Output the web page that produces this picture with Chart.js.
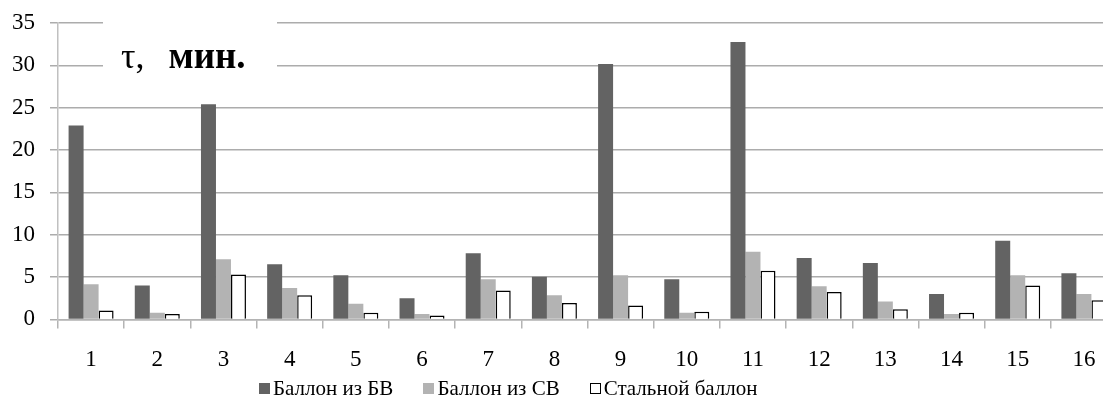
<!DOCTYPE html>
<html>
<head>
<meta charset="utf-8">
<script src="https://cdn.jsdelivr.net/npm/chart.js@4"></script>
<style>
  html, body { margin: 0; padding: 0; background: #fff; overflow: hidden; }
  #wrap { position: relative; width: 1118px; height: 396px; }
  #legend { position: absolute; left: 259px; top: 376px; display: flex; align-items: center;
            font: 21px "Liberation Serif", "Times New Roman", serif; color: #000; white-space: nowrap; }
  #legend .item { display: flex; align-items: center; margin-right: 30px; }
  #legend .box { width: 11px; height: 11px; margin-right: 3px; box-sizing: border-box; }
</style>
</head>
<body>
<div id="wrap">
  <canvas id="myChart"></canvas>
  <div id="legend"></div>
</div>
<script>
const categories = ["1","2","3","4","5","6","7","8","9","10","11","12","13","14","15","16"];
const seriesNames = ["Баллон из БВ", "Баллон из СВ", "Стальной баллон"];
const bvValues = [22.9, 4.0, 25.4, 6.5, 5.2, 2.5, 7.8, 5.05, 30.15, 4.75, 32.75, 7.25, 6.65, 3.0, 9.3, 5.45];
const svValues = [4.15, 0.8, 7.1, 3.7, 1.85, 0.65, 4.75, 2.85, 5.2, 0.8, 8.0, 3.9, 2.1, 0.65, 5.2, 3.0];
const steelValues = [1.05, 0.65, 5.3, 2.85, 0.8, 0.45, 3.4, 1.95, 1.65, 0.9, 5.75, 3.25, 1.2, 0.8, 4.0, 2.25];
const yMax = 35;
const yStep = 5;
const titleText = ["τ, ", "мин."];

const serif = "'Liberation Serif', 'Times New Roman', serif";

// white box with the unit label over the top gridlines
const unitLabel = {
  id: "unitLabel",
  afterDraw(chart) {
    const ctx = chart.ctx;
    ctx.save();
    ctx.fillStyle = "#fff";
    ctx.fillRect(103, 12, 174, 66);
    ctx.fillStyle = "#000";
    ctx.textBaseline = "alphabetic";
    ctx.font = "36px " + serif;
    ctx.fillText(titleText[0], 121, 68);
    const w = ctx.measureText(titleText[0]).width;
    ctx.font = "bold 37px " + serif;
    ctx.fillText(titleText[1], 121 + w + 15, 68);
    ctx.restore();
  },
};

const myChart = new Chart(document.getElementById("myChart"), {
  type: "bar",
  data: {
    labels: categories,
    datasets: [
      {
        label: seriesNames[0],
        data: bvValues,
        backgroundColor: "#636363",
        borderWidth: 0,
        barPercentage: 1,
        categoryPercentage: 0.68,
      },
      {
        label: seriesNames[1],
        data: svValues,
        backgroundColor: "#b3b3b3",
        borderWidth: 0,
        barPercentage: 1,
        categoryPercentage: 0.68,
      },
      {
        label: seriesNames[2],
        data: steelValues,
        backgroundColor: "#ffffff",
        borderColor: "#000000",
        borderWidth: 1.5,
        barPercentage: 1,
        categoryPercentage: 0.68,
      },
    ],
  },
  options: {
    responsive: true,
    maintainAspectRatio: false,
    animation: false,
    layout: {
      padding: { left: 12, right: 1, top: 23, bottom: 4 },
    },
    plugins: {
      legend: { display: false },
      tooltip: { enabled: false },
    },
    scales: {
      x: {
        grid: {
          drawOnChartArea: false,
          drawTicks: true,
          tickLength: 9,
          color: "#b4b4b4",
          lineWidth: 1.5,
        },
        border: { display: true, color: "#b4b4b4", width: 1.5 },
        ticks: {
          color: "#000",
          font: { family: serif, size: 23 },
          padding: 18,
          maxRotation: 0,
        },
      },
      y: {
        min: 0,
        max: yMax,
        afterFit: (scale) => {
          scale.width = 46;
          scale.paddingTop = 0;
          scale.paddingBottom = 0;
        },
        ticks: {
          stepSize: yStep,
          color: "#000",
          font: { family: serif, size: 23 },
          padding: 15,
        },
        grid: {
          color: "#acacac",
          lineWidth: 1.5,
          tickLength: 8,
        },
        border: { display: true, color: "#c0c0c0", width: 1.5 },
      },
    },
  },
  plugins: [unitLabel],
});

// legend built from the datasets
const legendEl = document.getElementById("legend");
myChart.data.datasets.forEach((ds) => {
  const item = document.createElement("span");
  item.className = "item";
  const box = document.createElement("span");
  box.className = "box";
  box.style.background = ds.backgroundColor;
  if (ds.borderWidth) box.style.border = "1px solid " + ds.borderColor;
  item.appendChild(box);
  item.appendChild(document.createTextNode(ds.label));
  legendEl.appendChild(item);
});
</script>
</body>
</html>
